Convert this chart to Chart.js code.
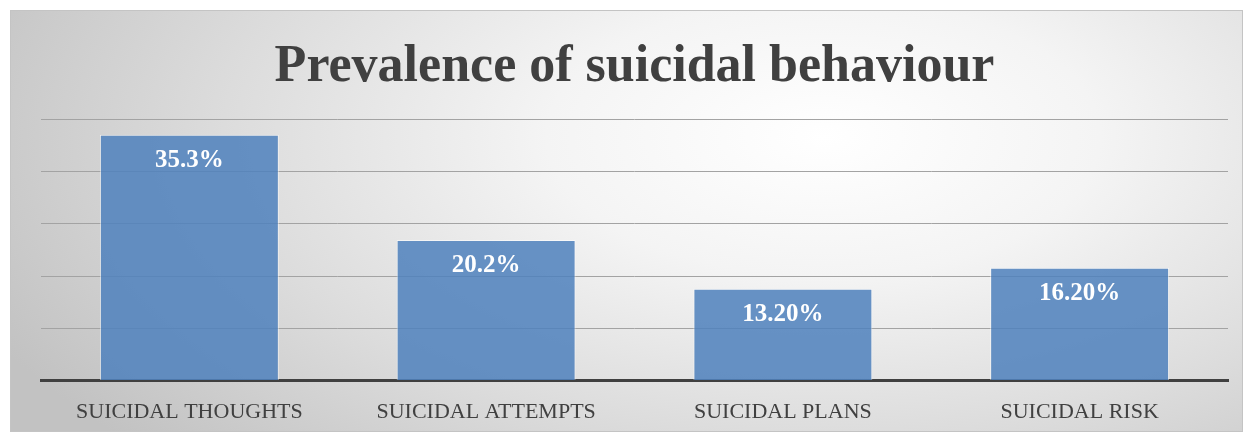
<!DOCTYPE html>
<html>
<head>
<meta charset="utf-8">
<title>Prevalence of suicidal behaviour</title>
<script src="https://cdn.jsdelivr.net/npm/chart.js@4.4.1/dist/chart.umd.min.js"></script>
<style>
  html, body { margin: 0; padding: 0; background: #fff; }
  .frame {
    position: absolute; left: 10px; top: 10px;
    width: 1233px; height: 422px; box-sizing: border-box;
    border: 1px solid #c4c4c4;
    background: radial-gradient(ellipse 75% 110% at 66% 30%, #ffffff 0%, #f4f4f4 30%, #dcdcdc 65%, #c2c2c2 100%);
  }
  canvas { display: block; }
</style>
</head>
<body>
<div class="frame"><canvas id="chart" width="1231" height="420"></canvas></div>
<script>
// chart data
const categories = ['SUICIDAL THOUGHTS', 'SUICIDAL ATTEMPTS', 'SUICIDAL PLANS', 'SUICIDAL RISK'];
const prevalence = [35.3, 20.2, 13.2, 16.2];
const labelDecimals = [1, 1, 2, 2];
const yMax = 37.5;
const yStep = 7.5;

const serif = "'Liberation Serif', 'DejaVu Serif', serif";

// white value labels near the top of each bar
const barLabels = {
  id: 'barLabels',
  afterDatasetsDraw(chart) {
    const ctx = chart.ctx;
    const meta = chart.getDatasetMeta(0);
    ctx.save();
    ctx.fillStyle = '#ffffff';
    ctx.font = 'bold 25px ' + serif;
    ctx.textAlign = 'center';
    ctx.textBaseline = 'middle';
    meta.data.forEach((bar, i) => {
      const txt = prevalence[i].toFixed(labelDecimals[i]) + '%';
      ctx.fillText(txt, bar.x, bar.y + 26);
    });
    ctx.restore();
  }
};

new Chart(document.getElementById('chart'), {
  type: 'bar',
  data: {
    labels: categories,
    datasets: [{
      data: prevalence,
      backgroundColor: 'rgba(79,129,189,0.86)',
      borderColor: 'rgba(255,255,255,0.55)',
      borderWidth: 1,
      barPercentage: 0.603,
      categoryPercentage: 1.0
    }]
  },
  options: {
    responsive: false,
    animation: false,
    layout: { padding: { left: 30, right: 14, top: 0, bottom: -4 } },
    plugins: {
      legend: { display: false },
      tooltip: { enabled: false },
      title: {
        display: true,
        text: 'Prevalence of suicidal behaviour',
        color: '#404040',
        font: { family: serif, size: 52, weight: 'bold' },
        padding: { top: 25, bottom: 21 }
      }
    },
    scales: {
      x: {
        grid: { display: false },
        border: { display: true, color: '#404040', width: 3 },
        ticks: {
          color: '#404040',
          font: { family: serif, size: 22 },
          padding: 10
        }
      },
      y: {
        min: 0,
        max: yMax,
        ticks: { display: false, stepSize: yStep },
        border: { display: false },
        grid: { color: '#a3a3a3', lineWidth: 1, drawTicks: false }
      }
    }
  },
  plugins: [barLabels]
});
</script>
</body>
</html>
